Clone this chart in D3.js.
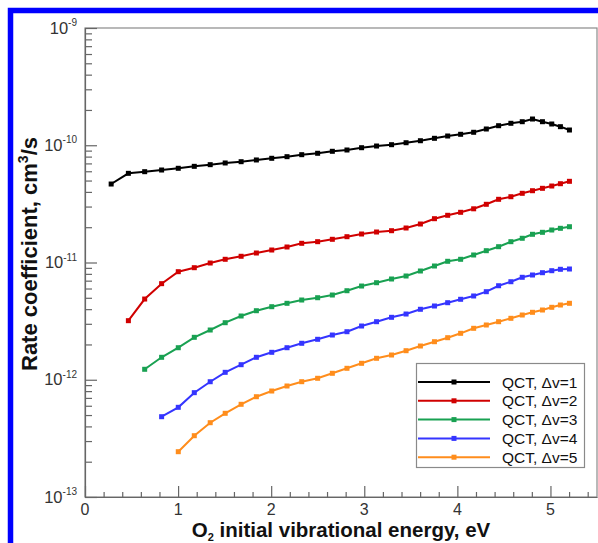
<!DOCTYPE html>
<html>
<head>
<meta charset="utf-8">
<script src="https://cdn.jsdelivr.net/npm/d3@7"></script>
<style>
body { margin: 0; background: #fff; }
svg { display: block; font-family: Arial, "Liberation Sans", sans-serif; }
</style>
</head>
<body>
<svg width="598" height="543"></svg>
<script>
// O2 initial vibrational energy (eV), shared by all curves
const energies = [0.281, 0.466, 0.641, 0.823, 1.002, 1.174, 1.345, 1.506, 1.677, 1.841,
    2.006, 2.170, 2.328, 2.499, 2.657, 2.814, 2.971, 3.132, 3.293, 3.449,
    3.603, 3.754, 3.896, 4.035, 4.175, 4.311, 4.443, 4.575, 4.697, 4.807,
    4.914, 5.014, 5.107, 5.204];

// rate coefficients (cm3/s); each curve ends at the last energy
const dv1 = [4.67e-11, 5.76e-11, 5.95e-11, 6.15e-11, 6.36e-11, 6.61e-11, 6.83e-11, 7.06e-11, 7.24e-11, 7.49e-11,
    7.74e-11, 7.99e-11, 8.31e-11, 8.54e-11, 8.88e-11, 9.11e-11, 9.53e-11, 9.85e-11, 1.011e-10, 1.051e-10,
    1.093e-10, 1.146e-10, 1.199e-10, 1.240e-10, 1.290e-10, 1.376e-10, 1.468e-10, 1.539e-10, 1.588e-10, 1.674e-10,
    1.588e-10, 1.518e-10, 1.440e-10, 1.349e-10];
const dv2 = [3.19e-12, 4.88e-12, 6.60e-12, 8.35e-12, 9.03e-12, 9.90e-12, 1.065e-11, 1.130e-11, 1.205e-11, 1.278e-11,
    1.356e-11, 1.458e-11, 1.505e-11, 1.577e-11, 1.660e-11, 1.750e-11, 1.820e-11, 1.867e-11, 1.969e-11, 2.130e-11,
    2.364e-11, 2.527e-11, 2.680e-11, 2.871e-11, 3.136e-11, 3.459e-11, 3.640e-11, 3.891e-11, 4.095e-11, 4.292e-11,
    4.491e-11, 4.699e-11, 4.925e-11];
const dv3 = [1.228e-12, 1.554e-12, 1.876e-12, 2.301e-12, 2.656e-12, 3.066e-12, 3.497e-12, 3.880e-12, 4.198e-12, 4.487e-12,
    4.787e-12, 5.008e-12, 5.281e-12, 5.745e-12, 6.300e-12, 6.724e-12, 7.233e-12, 7.672e-12, 8.463e-12, 9.335e-12,
    1.024e-11, 1.065e-11, 1.159e-11, 1.261e-11, 1.364e-11, 1.505e-11, 1.609e-11, 1.740e-11, 1.809e-11, 1.893e-11,
    1.957e-11, 2.019e-11];
const dv4 = [4.84e-13, 5.82e-13, 7.76e-13, 9.62e-13, 1.157e-12, 1.344e-12, 1.554e-12, 1.714e-12, 1.876e-12, 2.046e-12,
    2.213e-12, 2.407e-12, 2.569e-12, 2.873e-12, 3.127e-12, 3.408e-12, 3.636e-12, 3.990e-12, 4.256e-12, 4.541e-12,
    4.855e-12, 5.181e-12, 5.637e-12, 6.337e-12, 6.856e-12, 7.478e-12, 7.823e-12, 8.185e-12, 8.513e-12, 8.750e-12,
    8.80e-12];
const dv5 = [2.434e-13, 3.333e-13, 4.302e-13, 5.173e-13, 6.175e-13, 7.167e-13, 8.016e-13, 8.845e-13, 9.625e-13, 1.029e-12,
    1.135e-12, 1.252e-12, 1.381e-12, 1.524e-12, 1.626e-12, 1.769e-12, 1.940e-12, 2.111e-12, 2.284e-12, 2.489e-12,
    2.746e-12, 2.931e-12, 3.127e-12, 3.342e-12, 3.566e-12, 3.760e-12, 3.934e-12, 4.148e-12, 4.340e-12, 4.487e-12];

const labels = ["QCT, Δv=1", "QCT, Δv=2", "QCT, Δv=3", "QCT, Δv=4", "QCT, Δv=5"];
const colors = ["#000000", "#d00000", "#19a152", "#3535ff", "#ff8d1c"];
const xTicks = [0, 1, 2, 3, 4, 5];
const yExp = [-13, -12, -11, -10, -9];

const svg = d3.select("svg");
const pLeft = 85, pRight = 597, pTop = 28, pBottom = 497;

const x = d3.scaleLinear().domain([0, 5.5]).range([pLeft, pRight]);
const y = d3.scaleLog().domain([1e-13, 1e-9]).range([pBottom, pTop]);

// blue frame (cut at right and bottom)
svg.append("rect")
    .attr("x", 10.5).attr("y", 10.5)
    .attr("width", 700).attr("height", 700)
    .attr("fill", "none")
    .attr("stroke", "#0000ff")
    .attr("stroke-width", 5.5);

// plot box
svg.append("rect")
    .attr("x", pLeft).attr("y", pTop)
    .attr("width", pRight - pLeft).attr("height", pBottom - pTop)
    .attr("fill", "none")
    .attr("stroke", "#8a8a8a")
    .attr("stroke-width", 1.2);

// y minor and major ticks (pointing inward)
const yMinor = [];
yExp.slice(0, -1).forEach(e => { for (let k = 2; k <= 9; k++) yMinor.push(k * Math.pow(10, e)); });
const yMajor = yExp.map(e => Math.pow(10, e));

svg.append("g")
    .attr("transform", `translate(${pLeft},0)`)
    .call(d3.axisLeft(y).tickValues(yMinor).tickSize(-7).tickSizeOuter(0).tickFormat(""))
    .call(g => g.select(".domain").remove());
svg.append("g")
    .attr("transform", `translate(${pLeft},0)`)
    .call(d3.axisLeft(y).tickValues(yMajor).tickSize(-12).tickSizeOuter(0).tickFormat(""));

// x minor and major ticks (pointing upward)
const xMinor = d3.range(0.2, 5.45, 0.2).filter(v => Math.abs(v - Math.round(v)) > 0.01);
svg.append("g")
    .attr("transform", `translate(0,${pBottom})`)
    .call(d3.axisBottom(x).tickValues(xMinor).tickSize(-5).tickSizeOuter(0).tickFormat(""))
    .call(g => g.select(".domain").remove());
svg.append("g")
    .attr("transform", `translate(0,${pBottom})`)
    .call(d3.axisBottom(x).tickValues(xTicks).tickSize(-11).tickSizeOuter(0).tickFormat(""));

svg.selectAll(".tick line, .domain")
    .attr("stroke", "#666")
    .attr("stroke-width", 1.2);

// y tick labels 10^n
const ylab = svg.append("g")
    .selectAll("text")
    .data(yExp)
    .join("text")
    .attr("x", 77)
    .attr("y", d => y(Math.pow(10, d)) + 5.5)
    .attr("text-anchor", "end")
    .style("font-size", "16.5px")
    .style("fill", "#333");
ylab.append("tspan").text("10");
ylab.append("tspan")
    .attr("dy", -7.5)
    .style("font-size", "10px")
    .text(d => "-" + Math.abs(d));

// x tick labels
svg.append("g")
    .selectAll("text")
    .data(xTicks)
    .join("text")
    .attr("x", d => x(d))
    .attr("y", 514.5)
    .attr("text-anchor", "middle")
    .style("font-size", "16px")
    .style("fill", "#333")
    .text(d => d);

// axis titles
const xt = svg.append("text")
    .attr("x", 341)
    .attr("y", 537)
    .attr("text-anchor", "middle")
    .style("font-size", "20.5px")
    .style("font-weight", "bold")
    .style("fill", "#111");
xt.append("tspan").text("O");
xt.append("tspan").attr("dy", 3.5).style("font-size", "11px").text("2");
xt.append("tspan").attr("dy", -3.5).text(" initial vibrational energy, eV");

const yt = svg.append("text")
    .attr("transform", "translate(37,254) rotate(-90)")
    .attr("text-anchor", "middle")
    .style("font-size", "22px")
    .style("font-weight", "bold")
    .style("fill", "#111");
yt.append("tspan").text("Rate coefficient, cm");
yt.append("tspan").attr("dy", -9).style("font-size", "14px").text("3");
yt.append("tspan").attr("dy", 9).text("/s");

// curves
const series = [dv1, dv2, dv3, dv4, dv5].map((vals, i) => {
    const off = energies.length - vals.length;
    return { label: labels[i], color: colors[i], points: vals.map((v, j) => ({ e: energies[off + j], k: v })) };
});

const line = d3.line().x(d => x(d.e)).y(d => y(d.k));

const curves = svg.append("g")
    .selectAll(".curve")
    .data(series)
    .join("g")
    .attr("class", "curve");

curves.append("path")
    .attr("d", d => line(d.points))
    .attr("fill", "none")
    .attr("stroke", d => d.color)
    .attr("stroke-width", 2);

curves.each(function (s) {
    d3.select(this).selectAll("rect")
        .data(s.points)
        .join("rect")
        .attr("x", d => x(d.e) - 2.5)
        .attr("y", d => y(d.k) - 2.5)
        .attr("width", 5)
        .attr("height", 5)
        .attr("fill", s.color);
});

// legend
const lg = svg.append("g");
lg.append("rect")
    .attr("x", 416.5).attr("y", 363.5)
    .attr("width", 168).attr("height", 104)
    .attr("fill", "#fff")
    .attr("stroke", "#8a8a8a")
    .attr("stroke-width", 1.2);

const rows = lg.selectAll(".row")
    .data(series)
    .join("g")
    .attr("class", "row")
    .attr("transform", (d, i) => `translate(0,${382 + i * 18.8})`);
rows.append("line")
    .attr("x1", 418).attr("x2", 490)
    .attr("stroke", d => d.color)
    .attr("stroke-width", 2);
rows.append("rect")
    .attr("x", 451.5).attr("y", -2.5)
    .attr("width", 5).attr("height", 5)
    .attr("fill", d => d.color);
rows.append("text")
    .attr("x", 502)
    .attr("y", 5.5)
    .style("font-size", "15.5px")
    .style("fill", "#111")
    .text(d => d.label);
</script>
</body>
</html>
